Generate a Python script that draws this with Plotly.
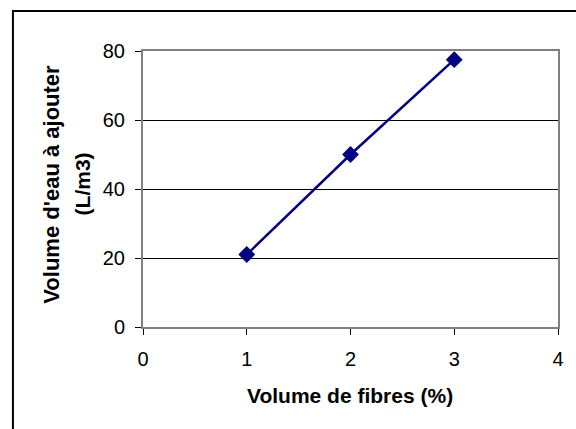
import plotly.graph_objects as go

fibres = [1, 2, 3]
eau = [21, 50, 77.5]
x_ticks = [0, 1, 2, 3, 4]
y_ticks = [0, 20, 40, 60, 80]

W, H = 576, 429
L, R, T, B = 143, 15, 51, 102
pw, ph = W - L - R, H - T - B

def px_x(p):
    return (p - L) / pw

def px_y(p):
    return (H - B - p) / ph

fig = go.Figure()
fig.add_trace(go.Scatter(
    x=fibres, y=eau, mode="lines+markers",
    line=dict(color="#000080", width=2.5),
    marker=dict(symbol="diamond", size=13, color="#000080"),
    cliponaxis=False,
))

font = dict(family="Liberation Sans, Arial, sans-serif", color="black")

fig.update_layout(
    width=W, height=H,
    margin=dict(l=L, r=R, t=T, b=B),
    paper_bgcolor="white", plot_bgcolor="white",
    showlegend=False,
    font=font,
    xaxis=dict(
        range=[0, 4], tickvals=x_ticks, ticktext=[str(v) for v in x_ticks],
        showgrid=False, zeroline=False,
        showline=True, linecolor="#808080", linewidth=2, mirror=True,
        ticks="outside", ticklen=6, tickcolor="black", tickwidth=1,
        ticklabelstandoff=7,
        tickfont=dict(size=20, **font),
    ),
    yaxis=dict(
        range=[0, 80], tickvals=y_ticks, ticktext=[str(v) for v in y_ticks],
        showgrid=True, gridcolor="black", gridwidth=1, zeroline=False,
        showline=True, linecolor="#808080", linewidth=2, mirror=True,
        ticks="outside", ticklen=6, tickcolor="black", tickwidth=1,
        ticklabelstandoff=6,
        tickfont=dict(size=20, **font),
    ),
)

# outer chart border (left and top visible)
fig.add_shape(type="rect", xref="paper", yref="paper",
              x0=px_x(12), x1=px_x(W + 20), y0=px_y(H + 20), y1=px_y(11),
              line=dict(color="black", width=2), layer="below")

fig.add_annotation(text="<b>Volume de fibres (%)</b>", xref="paper", yref="paper",
                   x=px_x(351), y=px_y(395), showarrow=False,
                   font=dict(size=21, **font), xanchor="center", yanchor="middle")
fig.add_annotation(text="<b>Volume d'eau à ajouter</b>", xref="paper", yref="paper",
                   x=px_x(50), y=px_y(184), showarrow=False, textangle=-90,
                   font=dict(size=22, **font), xanchor="center", yanchor="middle")
fig.add_annotation(text="<b>(L/m3)</b>", xref="paper", yref="paper",
                   x=px_x(82), y=px_y(184), showarrow=False, textangle=-90,
                   font=dict(size=21, **font), xanchor="center", yanchor="middle")

fig.write_html("out.html")
